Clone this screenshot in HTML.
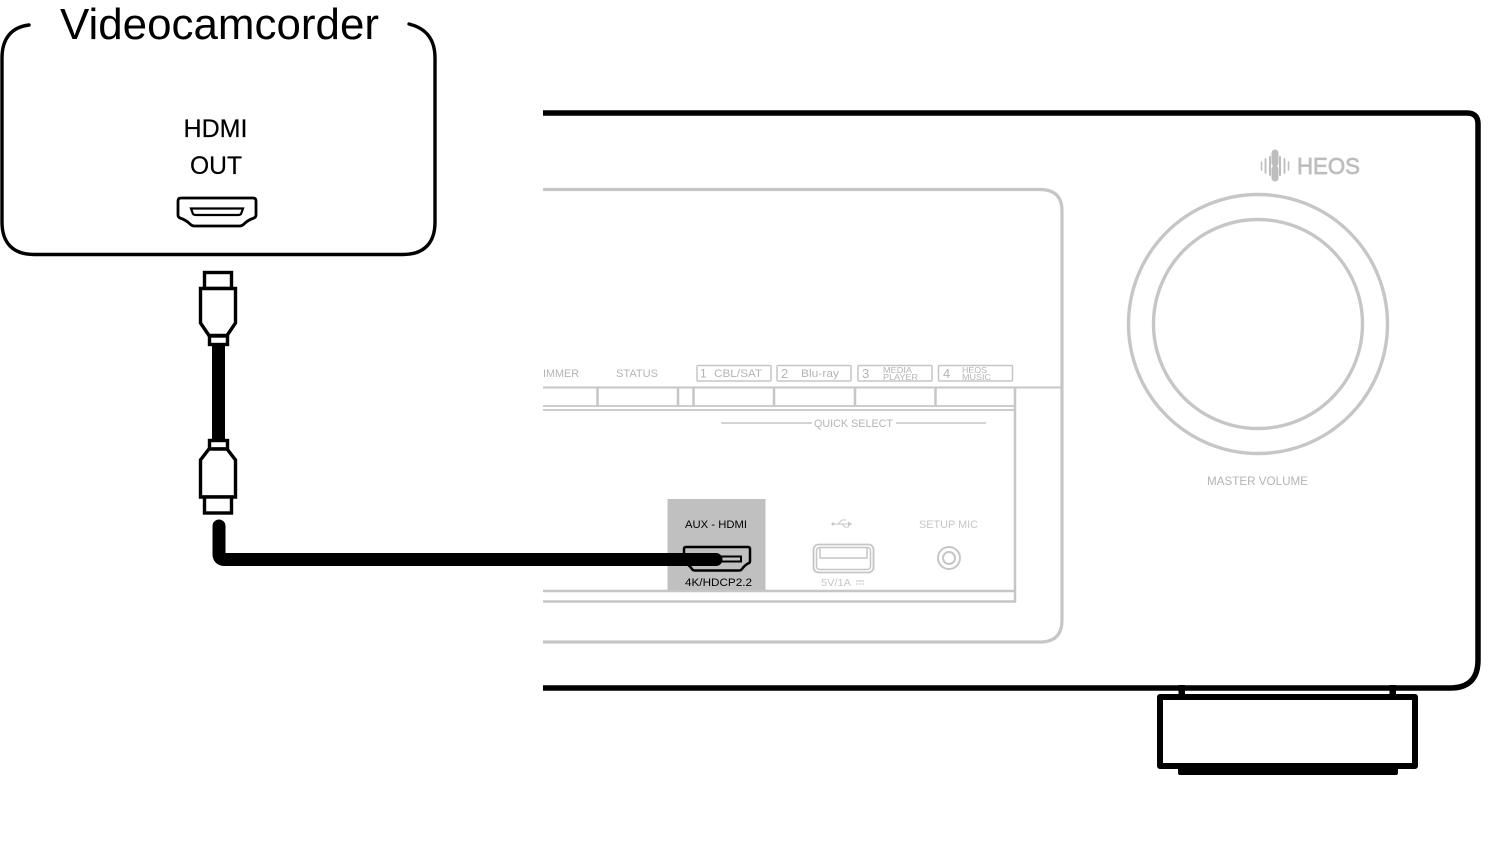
<!DOCTYPE html>
<html>
<head>
<meta charset="utf-8">
<style>
html,body{margin:0;padding:0;background:#fff;width:1500px;height:864px;overflow:hidden}
svg{display:block}
text{font-family:"Liberation Sans",sans-serif}
.g{fill:#b4b4b4}
.k{fill:#000}
</style>
</head>
<body>
<svg width="1500" height="864" viewBox="0 0 1500 864" xmlns="http://www.w3.org/2000/svg">
<rect width="1500" height="864" fill="#fff"/>

<!-- Videocamcorder box -->
<path d="M29,25 C12,27 2,38 2,58 V222 C2,243 13,254.500 34,254.500 H403 C424,254.500 435,243 435,222 V58 C435,38 425,28 409,24" fill="none" stroke="#000" stroke-width="3.400" stroke-linecap="round"/>
<text x="60" y="39" font-size="43.6" class="k" textLength="319" lengthAdjust="spacingAndGlyphs">Videocamcorder</text>
<text x="183.500" y="137" font-size="25" class="k" stroke="#000" stroke-width="0.200" textLength="64" lengthAdjust="spacingAndGlyphs">HDMI</text>
<text x="190" y="174" font-size="25" class="k" stroke="#000" stroke-width="0.200" textLength="52" lengthAdjust="spacingAndGlyphs">OUT</text>
<path d="M181,198 H253 Q256,198 256,201 V215 Q256,217 254,218 Q248,220 244,224 Q242,226 240,226 H194 Q192,226 190,224 Q186,220 180,218 Q178,217 178,215 V201 Q178,198 181,198 Z" fill="#fff" stroke="#000" stroke-width="2.800"/>
<path d="M191,208.500 H243 L241,214 Q240,215 238,215 H196 Q194,215 193,214 Z" fill="#fff" stroke="#000" stroke-width="2.200"/>

<!-- Receiver outline -->
<path d="M543,113 H1467 Q1478,113 1478,124 V660 Q1478,688 1450,688 H543" fill="none" stroke="#000" stroke-width="5.500"/>

<!-- Foot -->
<rect x="1178.500" y="685" width="6.500" height="10" fill="#000"/>
<rect x="1389.500" y="685" width="6.500" height="10" fill="#000"/>
<rect x="1160" y="697" width="255" height="69" fill="#fff" stroke="#000" stroke-width="6" stroke-linejoin="round"/>
<path d="M1178,769 H1398 V773 Q1398,775 1396,775 H1180 Q1178,775 1178,773 Z" fill="#000"/>

<!-- Front panel -->
<path d="M543,189.500 H1040 Q1062,189.500 1062,211 V620 Q1062,642 1040,642 H543" fill="none" stroke="#c6c6c6" stroke-width="3.200"/>

<!-- Knob -->
<circle cx="1258" cy="324" r="129.500" fill="none" stroke="#c6c6c6" stroke-width="3.400"/>
<circle cx="1258" cy="324" r="104.500" fill="none" stroke="#c6c6c6" stroke-width="3.400"/>
<text x="1207" y="485" font-size="11.500" class="g" textLength="101" lengthAdjust="spacingAndGlyphs">MASTER VOLUME</text>

<!-- HEOS -->
<g fill="none" stroke="#bdbdbd" stroke-linecap="round">
<path d="M1261.500,162 V170" stroke-width="1.500"/>
<path d="M1265.500,159 V173" stroke-width="1.800"/>
<path d="M1270,157 V175" stroke-width="2"/>
<path d="M1275,153 V163 M1275,169 V178" stroke-width="7"/>
<path d="M1280,157 V175" stroke-width="2"/>
<path d="M1284.500,159 V173" stroke-width="1.800"/>
<path d="M1288.500,162 V170" stroke-width="1.500"/>
</g>
<text x="1297" y="174" font-size="23" fill="#bdbdbd" stroke="#bdbdbd" stroke-width="0.700" textLength="63" lengthAdjust="spacingAndGlyphs">HEOS</text>

<!-- Button row labels -->
<text x="543" y="377" font-size="11" class="g" textLength="36" lengthAdjust="spacingAndGlyphs">IMMER</text>
<text x="616" y="377" font-size="11" class="g" textLength="42" lengthAdjust="spacingAndGlyphs">STATUS</text>
<g fill="#fff" stroke="#c6c6c6" stroke-width="1.500">
<rect x="697" y="365.500" width="74" height="15.500" rx="1"/>
<rect x="777" y="365.500" width="74" height="15.500" rx="1"/>
<rect x="858" y="365.500" width="74" height="15.500" rx="1"/>
<rect x="938.500" y="365.500" width="74" height="15.500" rx="1"/>
</g>
<text x="700" y="377.500" font-size="12" class="g">1</text>
<text x="714" y="377" font-size="11" class="g" textLength="48" lengthAdjust="spacingAndGlyphs">CBL/SAT</text>
<text x="781" y="378" font-size="13" class="g">2</text>
<text x="801" y="377" font-size="11" class="g" textLength="38" lengthAdjust="spacingAndGlyphs">Blu-ray</text>
<text x="862" y="378" font-size="13" class="g">3</text>
<text x="883" y="373" font-size="8.500" class="g" textLength="29" lengthAdjust="spacingAndGlyphs">MEDIA</text>
<text x="883" y="380" font-size="8.500" class="g" textLength="35" lengthAdjust="spacingAndGlyphs">PLAYER</text>
<text x="943" y="378" font-size="13" class="g">4</text>
<text x="962" y="373" font-size="8.500" class="g" textLength="25" lengthAdjust="spacingAndGlyphs">HEOS</text>
<text x="962" y="380" font-size="8.500" class="g" textLength="29" lengthAdjust="spacingAndGlyphs">MUSIC</text>

<!-- Lines below buttons -->
<g stroke="#c6c6c6" fill="none">
<path d="M543,387.500 H1061" stroke-width="2"/>
<path d="M543,406 H1015 M543,410 H1015" stroke-width="1.800"/>
<path d="M597.500,388 V406 M678,388 V406 M693.500,388 V406 M774,388 V406 M855,388 V406 M935.500,388 V406" stroke-width="2.500"/>
<path d="M1015,388 V602" stroke-width="2.500"/>
<path d="M721,423 H812 M896,423 H986" stroke-width="1.500"/>
<path d="M543,591 H1015 M543,601.500 H1016" stroke-width="2.500"/>
</g>
<text x="814" y="427" font-size="11" class="g" textLength="79" lengthAdjust="spacingAndGlyphs">QUICK SELECT</text>

<!-- AUX highlight -->
<rect x="667.500" y="499" width="98" height="91" fill="#c0c0c0"/>
<text x="685" y="528" font-size="11" class="k" textLength="62" lengthAdjust="spacingAndGlyphs">AUX - HDMI</text>
<text x="685" y="586" font-size="11" class="k" textLength="67" lengthAdjust="spacingAndGlyphs">4K/HDCP2.2</text>
<path d="M686,547 H748 Q750,547 750,549 V561 Q750,563 748,563.500 Q745,565 742,569 Q741,570.500 739,570.500 H695 Q693,570.500 692,569 Q689,565 686,563.500 Q684,563 684,561 V549 Q684,547 686,547 Z" fill="none" stroke="#000" stroke-width="2.500"/>
<path d="M700,556.500 H741 V561.500 H700" fill="none" stroke="#000" stroke-width="2"/>

<!-- USB -->
<g fill="none" stroke="#c6c6c6">
<path d="M833,524 H852" stroke-width="1"/>
<path d="M838,524 L842,520 H846 M842,524 L845,527 H849" stroke-width="1"/>
<rect x="813.500" y="544.500" width="60" height="28" rx="5" stroke-width="1.800"/>
<rect x="816.500" y="547.500" width="54" height="22" rx="3" stroke-width="1.500"/>
<path d="M820,548 V558 H867 V548" stroke-width="1.500"/>
<path d="M856,581 H864" stroke-width="1"/>
<path d="M856,584 H864" stroke-width="1" stroke-dasharray="2 1"/>
<circle cx="949" cy="558" r="11" stroke-width="2"/>
<circle cx="949" cy="558" r="6" stroke-width="2"/>
</g>
<circle cx="833" cy="524" r="1.500" fill="#c6c6c6"/>
<path d="M852,524 L848,521.500 V526.500 Z" fill="#c6c6c6"/>
<text x="821" y="586" font-size="10.500" fill="#c6c6c6" textLength="30" lengthAdjust="spacingAndGlyphs">5V/1A</text>
<text x="919" y="528" font-size="11" fill="#c6c6c6" textLength="59" lengthAdjust="spacingAndGlyphs">SETUP MIC</text>

<!-- Cable -->
<rect x="212" y="343" width="13" height="100" fill="#000"/>
<g fill="#fff" stroke="#000" stroke-width="3.400" stroke-linejoin="miter">
<rect x="204.500" y="272.500" width="27" height="16"/>
<path d="M200.500,288.500 H235.500 V323 L227,335.500 H209 L200.500,323 Z"/>
<rect x="209.500" y="336" width="18" height="8.500"/>
<rect x="209.500" y="440.500" width="18" height="8.500"/>
<path d="M209,449 H227 L235.500,460 V497 H200.500 V460 Z"/>
<rect x="204.500" y="497" width="27" height="16"/>
</g>
<path d="M219,526 V554 Q219,559.500 224.500,559.500 H716" fill="none" stroke="#000" stroke-width="13" stroke-linecap="round"/>
</svg>
</body>
</html>
